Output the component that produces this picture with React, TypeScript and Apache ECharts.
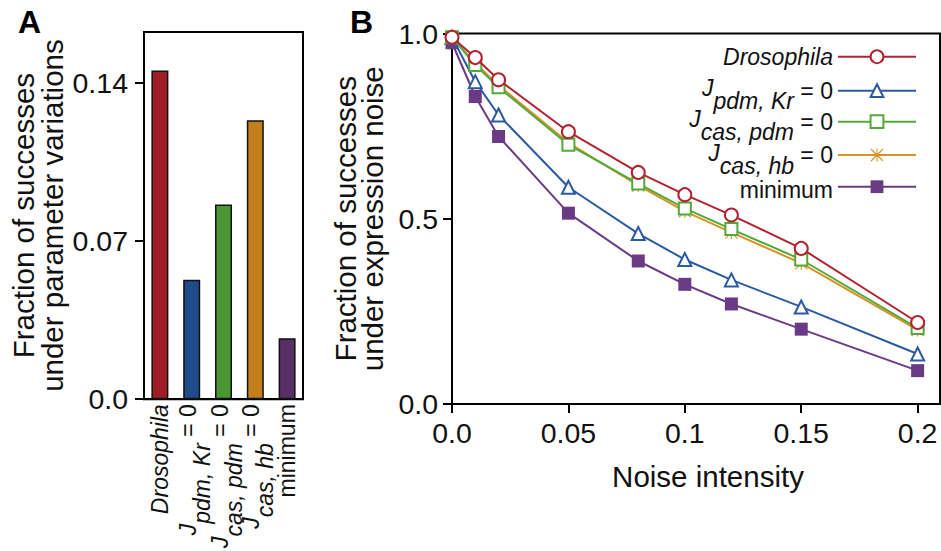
import React, { useEffect, useRef } from 'react';
import * as echarts from 'echarts';

// ---------- Panel A data ----------
const barCategories = ['Drosophila', 'J_pdm, Kr = 0', 'J_cas, pdm = 0', 'J_cas, hb = 0', 'minimum'];
const barValues = [0.1455, 0.0529, 0.0862, 0.1235, 0.027];
const barColors = ['#9e1d27', '#1f4b8a', '#4b9634', '#c27f1c', '#583068'];
const barTicks = [0, 0.07, 0.14];

// ---------- Panel B data ----------
const noiseLevels = [0, 0.01, 0.02, 0.05, 0.08, 0.1, 0.12, 0.15, 0.2];
const seriesNames = ['Drosophila', 'J_pdm, Kr = 0', 'J_cas, pdm = 0', 'J_cas, hb = 0', 'minimum'];
const drosophila = [0.99, 0.935, 0.875, 0.735, 0.625, 0.565, 0.51, 0.42, 0.22];
const jPdmKr = [0.99, 0.87, 0.78, 0.585, 0.46, 0.39, 0.335, 0.262, 0.135];
const jCasPdm = [0.99, 0.915, 0.855, 0.7, 0.595, 0.528, 0.472, 0.39, 0.205];
const jCasHb = [0.99, 0.92, 0.86, 0.705, 0.59, 0.52, 0.463, 0.38, 0.2];
const minimum = [0.975, 0.83, 0.722, 0.515, 0.386, 0.323, 0.27, 0.202, 0.09];
const lineColors = ['#b1232f', '#2b5aa3', '#55a83b', '#d69420', '#6a3a84'];
const noiseTicks = [0, 0.05, 0.1, 0.15, 0.2];
const fractionTicks = [0, 0.5, 1.0];

const FONT = "'Liberation Sans', Arial, Helvetica, sans-serif";
const STAR =
  'path://M11 0H13V24H11Z M0 11H24V13H0Z M0 1.5L1.5 0L24 22.5L22.5 24Z M22.5 0L24 1.5L1.5 24L0 22.5Z';

function richLabel(name: string): string {
  const m = name.match(/^J_(.+) = 0$/);
  if (m) return `{j|J}{s|${m[1]}}{e| = 0}`;
  if (name === 'Drosophila') return `{i|Drosophila}`;
  return `{n|${name}}`;
}

const tickFmt = (v: number) => (v === 0 ? '0.0' : v === 1 ? '1.0' : String(v));

export default function App() {
  const ref = useRef<HTMLDivElement>(null);
  useEffect(() => {
    if (!ref.current) return;
    const chart = echarts.init(ref.current, undefined, { renderer: 'svg' });

    const lineData = [drosophila, jPdmKr, jCasPdm, jCasHb, minimum];
    const symbols = ['emptyCircle', 'emptyTriangle', 'emptyRect', STAR, 'rect'];
    const symbolSizes = [13, 13, 12, 13, 13];
    const drawOrder = [4, 1, 3, 2, 0];

    const legendCenters = [56.7, 90.7, 121.7, 155, 186.7];
    const legendLH = [28, 44, 44, 44, 28];

    const axisLineStyle = { color: '#000', width: 2 };

    const option: any = {
      animation: false,
      textStyle: { fontFamily: FONT },
      graphic: [
        { type: 'text', left: 18, top: 6, style: { text: 'A', font: `bold 32px ${FONT}`, fill: '#000' } },
        { type: 'text', left: 350, top: 6, style: { text: 'B', font: `bold 32px ${FONT}`, fill: '#000' } },
      ],
      grid: [
        { left: 144, top: 32, width: 159, height: 374, show: true, borderColor: '#000', borderWidth: 2 },
        { left: 452, top: 33.5, width: 488, height: 370.5, show: true, borderColor: '#000', borderWidth: 2 },
      ],
      xAxis: [
        {
          type: 'category',
          gridIndex: 0,
          data: barCategories,
          axisLine: { lineStyle: axisLineStyle },
          axisTick: { show: false },
          axisLabel: {
            rotate: 90,
            margin: 5,
            interval: 0,
            formatter: richLabel,
            color: '#111',
            fontSize: 23,
            lineHeight: 43,
            rich: {
              j: { fontSize: 23, fontStyle: 'italic', verticalAlign: 'top', padding: [6, 0, 0, 0], fontFamily: FONT },
              s: { fontSize: 23, fontStyle: 'italic', verticalAlign: 'bottom', fontFamily: FONT },
              e: { fontSize: 23, verticalAlign: 'top', padding: [6, 0, 0, 0], fontFamily: FONT },
              i: { fontSize: 23, fontStyle: 'italic', verticalAlign: 'middle', fontFamily: FONT },
              n: { fontSize: 23, verticalAlign: 'middle', fontFamily: FONT },
            },
          },
        },
        {
          type: 'value',
          gridIndex: 1,
          min: 0,
          max: 0.2096,
          splitLine: { show: false },
          axisLine: { lineStyle: axisLineStyle },
          axisTick: { customValues: noiseTicks, length: 9, lineStyle: { color: '#000', width: 2 } },
          axisLabel: { customValues: noiseTicks, formatter: tickFmt, margin: 14, fontSize: 28.5, color: '#111' },
          name: 'Noise intensity',
          nameLocation: 'middle',
          nameGap: 57,
          nameTextStyle: { fontSize: 29.5, color: '#111', padding: [0, 0, 0, 24] },
        },
      ],
      yAxis: [
        {
          type: 'value',
          gridIndex: 0,
          min: 0,
          max: 0.1626,
          splitLine: { show: false },
          axisLine: { show: true, lineStyle: axisLineStyle },
          axisTick: { show: true, customValues: barTicks, length: 9, lineStyle: { color: '#000', width: 2 } },
          axisLabel: { customValues: barTicks, formatter: tickFmt, margin: 16, fontSize: 28.5, color: '#111' },
          name: 'Fraction of successes\nunder parameter variations',
          nameLocation: 'middle',
          nameGap: 77,
          nameTextStyle: { fontSize: 29.5, lineHeight: 29, color: '#111' },
        },
        {
          type: 'value',
          gridIndex: 1,
          min: 0,
          max: 1,
          splitLine: { show: false },
          axisLine: { show: true, lineStyle: axisLineStyle },
          axisTick: { show: true, customValues: fractionTicks, length: 9, lineStyle: { color: '#000', width: 2 } },
          axisLabel: { customValues: fractionTicks, formatter: tickFmt, margin: 14, fontSize: 28.5, color: '#111' },
          name: 'Fraction of successes\nunder expression noise',
          nameLocation: 'middle',
          nameGap: 61,
          nameTextStyle: { fontSize: 29.5, lineHeight: 27, color: '#111' },
        },
      ],
      legend: seriesNames.map((n, i) => ({
        data: [n],
        right: 24,
        top: legendCenters[i] - Math.max(legendLH[i], 16) / 2,
        orient: 'vertical',
        align: 'right',
        padding: 0,
        itemWidth: 78,
        itemHeight: 16,
        selectedMode: false,
        formatter: richLabel,
        textStyle: {
          fontSize: 23,
          color: '#111',
          lineHeight: legendLH[i],
          fontFamily: FONT,
          rich: {
            j: { fontSize: 23, fontStyle: 'italic', verticalAlign: 'top', padding: [8, 0, 0, 0], fontFamily: FONT },
            s: { fontSize: 23, fontStyle: 'italic', verticalAlign: 'bottom', fontFamily: FONT },
            e: { fontSize: 23, verticalAlign: 'middle', fontFamily: FONT },
            i: { fontSize: 23, fontStyle: 'italic', verticalAlign: 'middle', fontFamily: FONT },
            n: { fontSize: 23, verticalAlign: 'middle', padding: [6, 0, 0, 0], fontFamily: FONT },
          },
        },
      })),
      series: [
        {
          type: 'bar',
          xAxisIndex: 0,
          yAxisIndex: 0,
          barWidth: 17,
          data: barValues.map((v, i) => ({
            value: v,
            itemStyle: { color: barColors[i], borderColor: '#111', borderWidth: 1.5 },
          })),
        },
        ...drawOrder.map((k) => ({
          type: 'line',
          name: seriesNames[k],
          xAxisIndex: 1,
          yAxisIndex: 1,
          data: noiseLevels.map((x, j) => [x, lineData[k][j]]),
          symbol: symbols[k],
          symbolSize: symbolSizes[k],
          showAllSymbol: true,
          color: lineColors[k],
          lineStyle: { color: lineColors[k], width: 2 },
          itemStyle: { color: lineColors[k], borderWidth: 2 },
          z: 2 + drawOrder.indexOf(k),
        })),
      ],
    };
    chart.setOption(option);
    return () => chart.dispose();
  }, []);
  return (
    <div
      ref={ref}
      style={{ position: 'absolute', left: 0, top: 0, width: 941, height: 551, background: '#fff' }}
    />
  );
}
